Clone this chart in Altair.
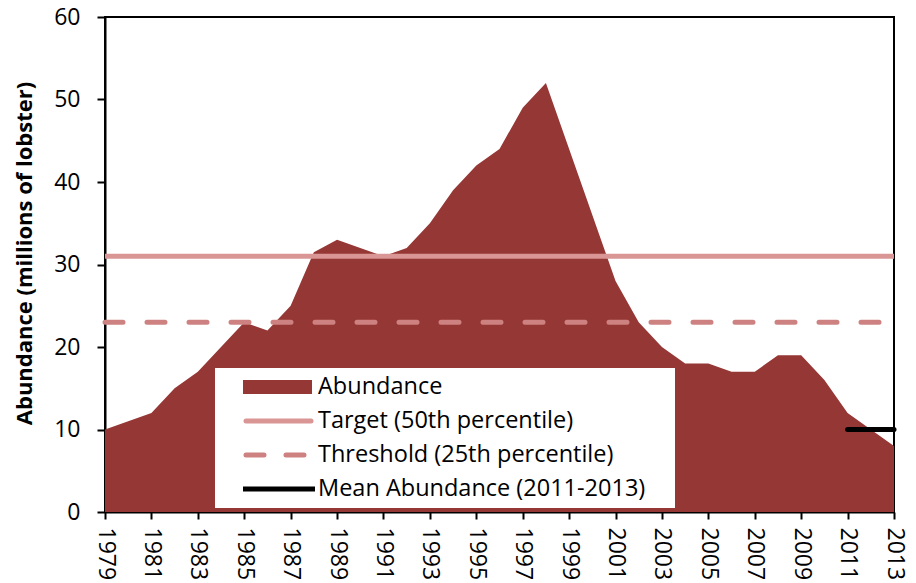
import altair as alt
import pandas as pd

years = list(range(1979, 2014))
abundance = [10, 11, 12, 15, 17, 20, 23, 22, 25, 31.5, 33, 32, 31, 32, 35, 39, 42, 44,
             49, 52, 44, 36, 28, 23, 20, 18, 18, 17, 17, 19, 19, 16, 12, 10, 8]
target_value = 31
threshold_value = 23
mean_value = 10
mean_years = [2011, 2013]
legend_labels = ["Abundance", "Target (50th percentile)", "Threshold (25th percentile)",
                 "Mean Abundance (2011-2013)"]

AREA = "#953735"
TARGET = "#D99694"
THRESH = "#CD8281"
FONT = "Open Sans"

df = pd.DataFrame({"year": years, "abundance": abundance})
refs = pd.DataFrame({
    "name": ["target", "threshold"],
    "x": [years[0], years[0]],
    "x2": [years[-1], years[-1]],
    "y": [target_value, threshold_value],
})
mean_df = pd.DataFrame({"x": [mean_years[0]], "x2": [mean_years[1]], "y": [mean_value]})
one = pd.DataFrame({"a": [0]})

xscale = alt.Scale(domain=[years[0], years[-1]], nice=False, zero=False)
yscale = alt.Scale(domain=[0, 60], nice=False)

xaxis = alt.Axis(values=years, format="d",
                 labelExpr="datum.value % 2 == 1 ? datum.label : ''",
                 labelAngle=90, labelAlign="left", labelBaseline="middle",
                 title=None, grid=False, tickSize=7, labelPadding=8)
yaxis = alt.Axis(values=[0, 10, 20, 30, 40, 50, 60], title="Abundance (millions of lobster)",
                 grid=False, tickSize=8, labelPadding=17, titlePadding=17, titleY=236)

area = alt.Chart(df).mark_area(color=AREA, opacity=1).encode(
    x=alt.X("year:Q", scale=xscale, axis=xaxis),
    y=alt.Y("abundance:Q", scale=yscale, axis=yaxis),
)

target = alt.Chart(refs[refs.name == "target"]).mark_rule(color=TARGET, strokeWidth=5).encode(
    x="x:Q", x2="x2:Q", y="y:Q")
threshold = alt.Chart(refs[refs.name == "threshold"]).mark_rule(
    color=THRESH, strokeWidth=5, strokeDash=[18, 24], strokeCap="round").encode(
    x="x:Q", x2="x2:Q", y="y:Q")
mean_rule = alt.Chart(mean_df).mark_rule(color="black", strokeWidth=5, strokeCap="round").encode(
    x="x:Q", x2="x2:Q", y="y:Q")

# legend (pixel positions relative to plot area)
box = alt.Chart(one).mark_rect(fill="white").encode(
    x=alt.value(110), x2=alt.value(570), y=alt.value(351), y2=alt.value(491))
sw = alt.Chart(one).mark_rect(fill=AREA).encode(
    x=alt.value(138), x2=alt.value(207), y=alt.value(363), y2=alt.value(377))
l1 = alt.Chart(one).mark_rule(color=TARGET, strokeWidth=5, strokeCap="round").encode(
    x=alt.value(141), x2=alt.value(206), y=alt.value(404))
l2 = alt.Chart(one).mark_rule(color=THRESH, strokeWidth=5, strokeCap="round",
                              strokeDash=[18, 22]).encode(
    x=alt.value(141), x2=alt.value(206), y=alt.value(438))
l3 = alt.Chart(one).mark_rule(color="black", strokeWidth=5).encode(
    x=alt.value(138), x2=alt.value(210), y=alt.value(472))
texts = [alt.Chart(one).mark_text(align="left", baseline="middle", font=FONT, fontSize=23.5,
                                  color="black").encode(
    x=alt.value(213), y=alt.value(370 + 34 * i), text=alt.value(lbl))
    for i, lbl in enumerate(legend_labels)]

chart = alt.layer(area, target, threshold, mean_rule, box, sw, l1, l2, l3, *texts).properties(
    width=789, height=495,
    autosize=alt.AutoSizeParams(type="none"),
    padding={"left": 97, "top": 9, "right": 14, "bottom": 80},
).configure_view(stroke="black", strokeWidth=2).configure_axis(
    domainColor="black", domainWidth=2, tickColor="black", tickWidth=2,
    labelFont=FONT, labelFontSize=23, labelColor="black",
    titleFont=FONT, titleFontSize=22, titleFontWeight="bold", titleColor="black",
)

chart.save("out.html", embed_options={"renderer": "svg", "actions": False})
